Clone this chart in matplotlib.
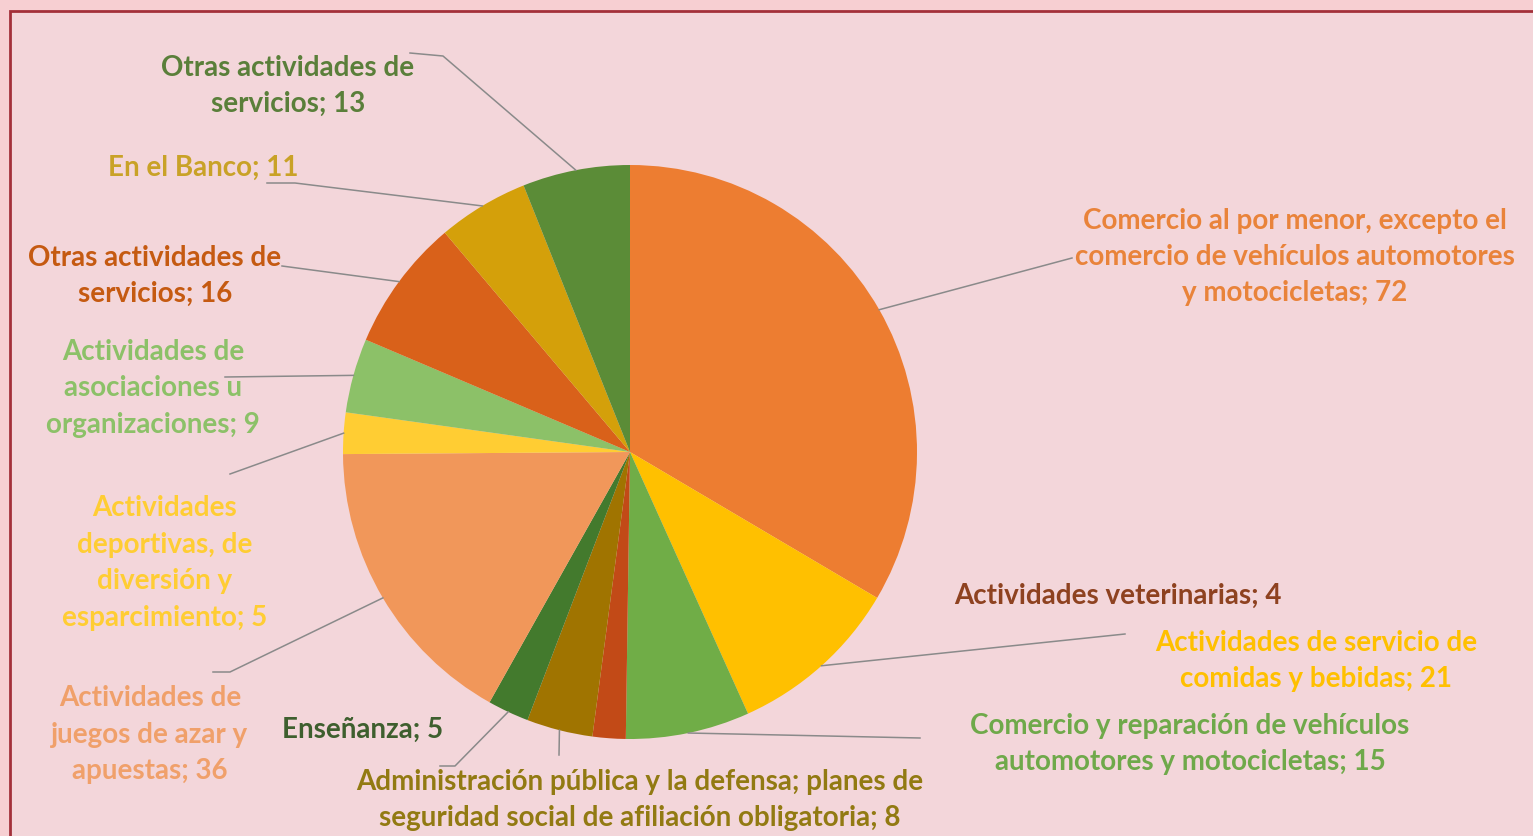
import numpy as np
import matplotlib.pyplot as plt
from matplotlib.patches import Rectangle

plt.rcParams['font.family'] = ['Lato', 'DejaVu Sans']

# slice names and values, clockwise from 12 o'clock
names = [
    "Comercio al por menor, excepto el\ncomercio de vehículos automotores\ny motocicletas",
    "Actividades de servicio de\ncomidas y bebidas",
    "Comercio y reparación de vehículos\nautomotores y motocicletas",
    "Actividades veterinarias",
    "Administración pública y la defensa; planes de\nseguridad social de afiliación obligatoria",
    "Enseñanza",
    "Actividades de\njuegos de azar y\napuestas",
    "Actividades\ndeportivas, de\ndiversión y\nesparcimiento",
    "Actividades de\nasociaciones u\norganizaciones",
    "Otras actividades de\nservicios",
    "En el Banco",
    "Otras actividades de\nservicios",
]
values = [72, 21, 15, 4, 8, 5, 36, 5, 9, 16, 11, 13]

slice_colors = ['#ED7D31', '#FFC000', '#70AD47', '#C24A17', '#A07400', '#437A2D',
                '#F1975A', '#FFCD33', '#8CC168', '#D9611A', '#D4A00A', '#5B8C37']
text_colors = ['#E9833A', '#FFC000', '#6FA94A', '#8E4220', '#927A12', '#3E5F2E',
               '#F0A06A', '#FFCD33', '#8CC168', '#C55A11', '#C9A227', '#5A7F3A']

# label placement (pixel coords of text centre) and leader start points
label_pos = [(1295, 257), (1316, 661), (1190, 744), (1118, 596), (640, 800), (363, 730),
             (150, 735), (165, 563), (153, 388), (155, 276), (203, 168), (288, 86)]
leader_pts = [[(1072, 258)], [(1125, 634)], [(920, 738)], None,
              [(559, 755)], [(440, 766), (455, 766)], [(213, 672), (230, 672)],
              [(230, 474)], [(225, 377)], [(282, 266)], [(267, 183), (295, 183)],
              [(410, 53), (443, 56)]]

W, H = 1533, 836
cx, cy, r = 630, 452, 287

fig = plt.figure(figsize=(W / 100, H / 100), dpi=100, facecolor='#F7CFD2')
ax = fig.add_axes([0, 0, 1, 1])
ax.add_patch(Rectangle((10, 11), W + 50, H + 50, facecolor='#F3D6DA',
                       edgecolor='#A3303A', linewidth=2, zorder=0))

wedges, _ = ax.pie(values, colors=slice_colors, startangle=-90, counterclock=True,
                   center=(cx, cy), radius=r, wedgeprops=dict(linewidth=0))

for i, w in enumerate(wedges):
    tx, ty = label_pos[i]
    ax.text(tx, ty, f"{names[i]}; {values[i]}", color=text_colors[i], fontsize=20,
            fontweight='bold', ha='center', va='center', linespacing=1.5,
            multialignment='center')
    if leader_pts[i] is None:
        continue
    mid = np.deg2rad((w.theta1 + w.theta2) / 2)
    ax_pt = (cx + r * np.cos(mid), cy + r * np.sin(mid))
    pts = leader_pts[i] + [ax_pt]
    ax.plot([p[0] for p in pts], [p[1] for p in pts], color='#8A8A8A', lw=1.1, zorder=1)

ax.set_xlim(0, W)
ax.set_ylim(H, 0)
ax.set_aspect('auto')
ax.axis('off')

fig.savefig('out.png', dpi=100, facecolor=fig.get_facecolor())
